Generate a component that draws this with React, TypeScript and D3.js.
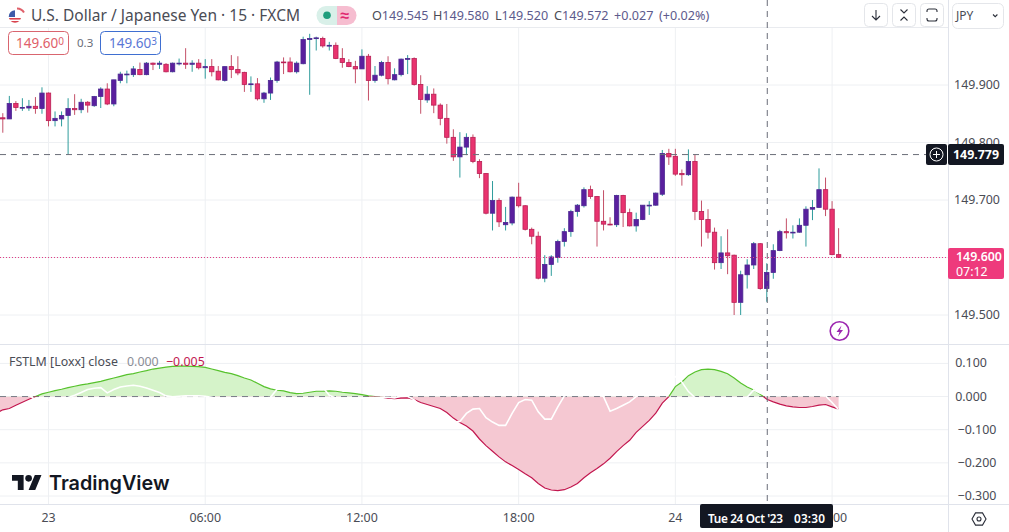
import React from 'react';
import * as d3 from 'd3';

// 15 minute bars, index 0 is the leftmost one on screen
const opens = [
  149.843, 149.841, 149.868, 149.860, 149.860, 149.863, 149.859, 149.886, 149.838, 149.841,
  149.847, 149.859, 149.857, 149.870, 149.864, 149.880, 149.893, 149.867, 149.908, 149.918,
  149.918, 149.927, 149.918, 149.938, 149.936, 149.936, 149.923, 149.937, 149.938, 149.936,
  149.938, 149.930, 149.932, 149.924, 149.908, 149.932, 149.927, 149.922, 149.901, 149.902,
  149.876, 149.886, 149.908, 149.940, 149.940, 149.923, 149.937, 149.979, 149.981, 149.981,
  149.968, 149.969, 149.946, 149.939, 149.932, 149.928, 149.950, 149.908, 149.917, 149.939,
  149.909, 149.918, 149.945, 149.946, 149.901, 149.874, 149.884, 149.865, 149.842, 149.809,
  149.775, 149.792, 149.809, 149.767, 149.746, 149.677, 149.699, 149.657, 149.660, 149.705,
  149.690, 149.649, 149.637, 149.564, 149.588, 149.600, 149.628, 149.645, 149.680, 149.690,
  149.718, 149.706, 149.663, 149.658, 149.657, 149.708, 149.678, 149.655, 149.666, 149.690,
  149.691, 149.710, 149.781, 149.776, 149.746, 149.744, 149.767, 149.680, 149.666, 149.644,
  149.591, 149.608, 149.604, 149.522, 149.570, 149.587, 149.624, 149.546, 149.574, 149.612,
  149.645, 149.643, 149.644, 149.656, 149.684, 149.687, 149.718, 149.684, 149.605,
];
const highs = [
  149.851, 149.881, 149.872, 149.877, 149.874, 149.879, 149.896, 149.887, 149.854, 149.854,
  149.877, 149.884, 149.876, 149.872, 149.881, 149.896, 149.903, 149.909, 149.923, 149.925,
  149.933, 149.939, 149.940, 149.939, 149.942, 149.938, 149.939, 149.946, 149.964, 149.943,
  149.945, 149.945, 149.945, 149.933, 149.932, 149.952, 149.950, 149.923, 149.915, 149.912,
  149.888, 149.913, 149.942, 149.948, 149.948, 149.941, 149.984, 149.989, 149.984, 149.984,
  149.975, 149.974, 149.964, 149.945, 149.942, 149.962, 149.954, 149.933, 149.942, 149.950,
  149.929, 149.946, 149.952, 149.948, 149.917, 149.898, 149.894, 149.868, 149.867, 149.823,
  149.818, 149.816, 149.814, 149.771, 149.747, 149.733, 149.703, 149.688, 149.706, 149.730,
  149.691, 149.652, 149.645, 149.604, 149.604, 149.631, 149.651, 149.683, 149.693, 149.722,
  149.725, 149.707, 149.717, 149.670, 149.709, 149.709, 149.685, 149.678, 149.691, 149.698,
  149.713, 149.787, 149.789, 149.789, 149.753, 149.788, 149.779, 149.699, 149.684, 149.652,
  149.637, 149.649, 149.605, 149.577, 149.597, 149.627, 149.625, 149.590, 149.623, 149.648,
  149.668, 149.656, 149.668, 149.689, 149.700, 149.755, 149.739, 149.698, 149.651,
];
const lows = [
  149.817, 149.841, 149.855, 149.855, 149.855, 149.850, 149.850, 149.828, 149.828, 149.828,
  149.779, 149.848, 149.851, 149.852, 149.862, 149.860, 149.865, 149.863, 149.903, 149.903,
  149.914, 149.917, 149.917, 149.926, 149.928, 149.922, 149.922, 149.934, 149.928, 149.923,
  149.927, 149.911, 149.915, 149.908, 149.906, 149.912, 149.917, 149.888, 149.888, 149.873,
  149.869, 149.874, 149.904, 149.919, 149.922, 149.920, 149.936, 149.883, 149.960, 149.965,
  149.960, 149.945, 149.930, 149.931, 149.903, 149.928, 149.873, 149.904, 149.915, 149.901,
  149.908, 149.915, 149.919, 149.899, 149.850, 149.869, 149.851, 149.830, 149.798, 149.768,
  149.739, 149.778, 149.764, 149.738, 149.675, 149.647, 149.653, 149.647, 149.656, 149.687,
  149.647, 149.623, 149.562, 149.557, 149.568, 149.591, 149.619, 149.636, 149.671, 149.687,
  149.702, 149.619, 149.647, 149.656, 149.653, 149.653, 149.654, 149.645, 149.665, 149.674,
  149.690, 149.707, 149.761, 149.742, 149.725, 149.742, 149.665, 149.619, 149.633, 149.579,
  149.580, 149.571, 149.500, 149.500, 149.546, 149.580, 149.544, 149.523, 149.563, 149.611,
  149.633, 149.633, 149.643, 149.619, 149.665, 149.686, 149.672, 149.604, 149.599,
];
const closes = [
  149.841, 149.868, 149.861, 149.861, 149.863, 149.859, 149.886, 149.838, 149.842, 149.847,
  149.859, 149.857, 149.870, 149.865, 149.880, 149.893, 149.867, 149.909, 149.919, 149.919,
  149.928, 149.918, 149.938, 149.936, 149.938, 149.923, 149.938, 149.938, 149.936, 149.938,
  149.930, 149.932, 149.923, 149.909, 149.932, 149.927, 149.921, 149.901, 149.902, 149.876,
  149.886, 149.908, 149.940, 149.939, 149.923, 149.938, 149.979, 149.981, 149.982, 149.968,
  149.969, 149.946, 149.939, 149.932, 149.928, 149.950, 149.908, 149.917, 149.939, 149.911,
  149.918, 149.945, 149.946, 149.901, 149.875, 149.884, 149.865, 149.842, 149.809, 149.775,
  149.792, 149.809, 149.767, 149.746, 149.677, 149.699, 149.662, 149.661, 149.705, 149.690,
  149.649, 149.637, 149.564, 149.588, 149.601, 149.628, 149.645, 149.680, 149.691, 149.718,
  149.706, 149.663, 149.658, 149.657, 149.708, 149.678, 149.655, 149.666, 149.691, 149.691,
  149.712, 149.781, 149.775, 149.745, 149.744, 149.767, 149.680, 149.666, 149.644, 149.591,
  149.608, 149.603, 149.522, 149.570, 149.587, 149.624, 149.546, 149.574, 149.612, 149.645,
  149.643, 149.644, 149.656, 149.684, 149.687, 149.718, 149.684, 149.605, 149.600,
];

// FSTLM [Loxx], one reading per bar, starting one bar left of the screen
const fstlm = [
  -0.050,
  -0.040, -0.036, -0.026, -0.017, -0.008, 0.000, 0.008, 0.013, 0.018, 0.022,
  0.027, 0.031, 0.035, 0.038, 0.042, 0.046, 0.051, 0.056, 0.061, 0.066,
  0.069, 0.074, 0.078, 0.083, 0.086, 0.089, 0.091, 0.092, 0.092, 0.091,
  0.090, 0.088, 0.083, 0.078, 0.073, 0.069, 0.063, 0.056, 0.050, 0.040,
  0.030, 0.023, 0.019, 0.017, 0.012, 0.009, 0.010, 0.013, 0.016, 0.016,
  0.017, 0.016, 0.013, 0.011, 0.009, 0.006, 0.002, 0.000, -0.002, -0.005,
  -0.006, -0.005, -0.004, -0.009, -0.018, -0.024, -0.030, -0.036, -0.048, -0.065,
  -0.078, -0.089, -0.104, -0.128, -0.148, -0.165, -0.182, -0.197, -0.208, -0.220,
  -0.233, -0.245, -0.262, -0.276, -0.282, -0.284, -0.281, -0.273, -0.262, -0.245,
  -0.230, -0.217, -0.203, -0.186, -0.166, -0.148, -0.132, -0.108, -0.090, -0.072,
  -0.050, -0.020, 0.000, 0.030, 0.044, 0.063, 0.074, 0.081, 0.083, 0.081,
  0.076, 0.069, 0.056, 0.041, 0.029, 0.020, 0.007, -0.008, -0.016, -0.023,
  -0.028, -0.031, -0.033, -0.033, -0.030, -0.026, -0.024, -0.031, -0.038,
];
// second plot of the indicator, white so it only shows on top of the fill
const fstlmSignal = [
  0.010,
  0.010, 0.010, 0.010, 0.008, 0.005, -0.010, -0.012, -0.010, -0.008, -0.006,
  -0.003, 0.004, 0.012, 0.021, 0.025, 0.027, 0.011, 0.021, 0.029, 0.032,
  0.034, 0.031, 0.026, 0.019, 0.012, 0.002, -0.001, 0.001, 0.002, 0.002,
  0.002, 0.001, -0.002, -0.008, -0.010, -0.010, -0.010, -0.008, -0.008, -0.006,
  -0.005, -0.002, 0.022, 0.030, 0.030, 0.028, 0.028, 0.030, 0.030, 0.028,
  0.004, -0.004, -0.005, -0.005, -0.005, -0.005, -0.004, -0.003, -0.002, -0.002,
  -0.004, 0.002, 0.001, -0.010, -0.030, -0.040, -0.050, -0.060, -0.075, -0.078,
  -0.075, -0.051, -0.038, -0.036, -0.064, -0.077, -0.087, -0.087, -0.051, -0.018,
  -0.009, -0.011, -0.046, -0.068, -0.068, -0.031, 0.002, 0.010, 0.012, 0.012,
  0.010, 0.006, 0.000, -0.044, -0.036, -0.026, -0.016, 0.000, 0.015, 0.030,
  0.050, 0.050, 0.060, 0.060, 0.044, 0.015, -0.003, -0.010, -0.010, -0.010,
  -0.010, -0.010, -0.008, -0.006, -0.002, 0.020, 0.010, 0.005, 0.005, 0.005,
  0.005, 0.005, 0.005, 0.005, 0.005, 0.004, 0.002, -0.018, -0.040,
];

const priceTicks = [149.9, 149.8, 149.7, 149.6, 149.5];
const priceLabels = ['149.900', '149.800', '149.700', '', '149.500'];
const oscTicks = [0.1, 0, -0.1, -0.2, -0.3];
const oscLabels = ['0.100', '0.000', '\u22120.100', '\u22120.200', '\u22120.300'];
const timeBars = [7, 31, 55, 79, 103, 127];
const timeLabels = ['23', '06:00', '12:00', '18:00', '24', '00'];
const hoverBar = 117;
const hoverPrice = 149.779;
const lastPrice = 149.6;

const plotRight = 948.5;
const font = '"Noto Sans", sans-serif';
const gridColor = '#eef0f3';
const upBody = '#5a1f9e';
const upBorder = '#4b2a92';
const upWick = '#2f9c9c';
const downBody = '#e9336f';
const downBorder = '#b81f55';
const downWick = '#c45068';

const x = d3.scaleLinear().domain([0, 128]).range([2.8, 838.6]);
const yPrice = d3.scaleLinear().domain([149.9, 149.5]).range([85, 315]);
const yOsc = d3.scaleLinear().domain([0.1, -0.3]).range([363.4, 496]);

const oscArea = d3
  .area<number>()
  .x((_, i) => x(i - 1))
  .y0(yOsc(0))
  .y1((d) => yOsc(d));
const oscLine = d3
  .line<number>()
  .x((_, i) => x(i - 1))
  .y((d) => yOsc(d));

const Candles = () => (
  <g>
    {opens.map((open, i) => {
      const up = closes[i] >= open;
      const top = yPrice(Math.max(open, closes[i]));
      const bottom = yPrice(Math.min(open, closes[i]));
      const cx = x(i);
      return (
        <g key={i}>
          <line
            x1={cx}
            x2={cx}
            y1={yPrice(highs[i])}
            y2={yPrice(lows[i])}
            stroke={up ? upWick : downWick}
            strokeWidth={1}
          />
          <rect
            x={cx - 2.2}
            y={top}
            width={4.4}
            height={Math.max(bottom - top, 0.8)}
            fill={up ? upBody : downBody}
            stroke={up ? upBorder : downBorder}
            strokeWidth={0.8}
          />
        </g>
      );
    })}
  </g>
);

const Oscillator = () => (
  <g>
    <defs>
      <clipPath id="above-zero">
        <rect x={0} y={345} width={plotRight} height={yOsc(0) - 345} />
      </clipPath>
      <clipPath id="below-zero">
        <rect x={0} y={yOsc(0)} width={plotRight} height={504 - yOsc(0)} />
      </clipPath>
    </defs>
    <path d={oscArea(fstlm) ?? ''} fill="#d5f3c9" clipPath="url(#above-zero)" />
    <path d={oscArea(fstlm) ?? ''} fill="#f5c8d2" clipPath="url(#below-zero)" />
    <line
      x1={0}
      x2={x(128)}
      y1={yOsc(0)}
      y2={yOsc(0)}
      stroke="#787b86"
      strokeWidth={1}
      strokeDasharray="6 5"
    />
    <path d={oscLine(fstlm) ?? ''} fill="none" stroke="#57c22d" strokeWidth={1.2} clipPath="url(#above-zero)" />
    <path d={oscLine(fstlm) ?? ''} fill="none" stroke="#c2174f" strokeWidth={1.2} clipPath="url(#below-zero)" />
    <path d={oscLine(fstlmSignal) ?? ''} fill="none" stroke="#ffffff" strokeWidth={1.6} />
  </g>
);

const Header = () => (
  <g fontFamily={font}>
    {/* flag */}
    <defs>
      <clipPath id="flag">
        <circle cx={15} cy={16.5} r={6.2} />
      </clipPath>
    </defs>
    <g clipPath="url(#flag)">
      <rect x={8} y={10} width={14} height={14} fill="#ffffff" />
      <rect x={8} y={18} width={14} height={1.6} fill="#d9434e" />
      <rect x={8} y={21} width={14} height={3} fill="#d9434e" />
      <rect x={8} y={10} width={7} height={7} fill="#3d5ba9" />
    </g>
    <path d="M17 8.5a8 8 0 0 1 7 4" fill="none" stroke="#e0606a" strokeWidth={2} />
    <text x={31} y={21} fontSize={15.5} fill="#4a4c55" textLength={269}>
      U.S. Dollar / Japanese Yen · 15 · FXCM
    </text>

    {/* market status pill */}
    <path d="M337 6h-11a9.5 9.5 0 0 0 0 19h11z" fill="#d9f0e9" />
    <path d="M337 6h10a9.5 9.5 0 0 1 0 19h-10z" fill="#f6bdd0" />
    <circle cx={327} cy={15.3} r={3.8} fill="#1f9d7c" />
    <text x={345} y={20.5} fontSize={16} fontWeight={700} fill="#e0296f" textAnchor="middle">≈</text>

    {/* OHLC */}
    <g fontSize={12.6} fill="#5d5a8c">
      <text x={372} y={20}>
        <tspan fill="#4a4c55">O</tspan>149.545
      </text>
      <text x={433} y={20}>
        <tspan fill="#4a4c55">H</tspan>149.580
      </text>
      <text x={495} y={20}>
        <tspan fill="#4a4c55">L</tspan>149.520
      </text>
      <text x={554} y={20}>
        <tspan fill="#4a4c55">C</tspan>149.572
      </text>
      <text x={614} y={20}>+0.027</text>
      <text x={659} y={20}>(+0.02%)</text>
    </g>

    {/* bid / ask */}
    <rect x={8.5} y={31.5} width={60} height={23} rx={4} fill="#ffffff" stroke="#d9656f" />
    <text x={16} y={48} fontSize={13.5} fill="#e0606a">
      149.60<tspan fontSize={10} dy={-3}>0</tspan>
    </text>
    <text x={77} y={47} fontSize={11.5} fill="#6a6d78">0.3</text>
    <rect x={100.5} y={31.5} width={60} height={23} rx={4} fill="#ffffff" stroke="#3f6fd1" />
    <text x={109} y={48} fontSize={13.5} fill="#5b78d6">
      149.60<tspan fontSize={10} dy={-3}>3</tspan>
    </text>

    {/* buttons */}
    <g fill="#ffffff" stroke="#e4e6ea">
      <rect x={864.5} y={3.5} width={23} height={23} rx={4} />
      <rect x={892.5} y={3.5} width={23} height={23} rx={4} />
      <rect x={920.5} y={3.5} width={23} height={23} rx={4} />
      <rect x={952.5} y={3.5} width={51} height={25} rx={5} />
    </g>
    <g fill="none" stroke="#2a2e39" strokeWidth={1.1}>
      <path d="M876 10v10M872 16l4 4 4-4" />
      <path d="M900.5 9.5l3.5 3.5 3.5-3.5M900.5 20.5l3.5-3.5 3.5 3.5" />
      <path d="M927 12v-1a2 2 0 0 1 2-2h6a2 2 0 0 1 2 2v1M927 18v1a2 2 0 0 0 2 2h6a2 2 0 0 0 2-2v-1" />
      <path d="M993 14.5l2.2 2.2 2.2-2.2" />
    </g>
    <text x={956} y={20} fontSize={12} fill="#4a4c55">JPY</text>
  </g>
);

const App = () => (
  <svg
    width={1009}
    height={532}
    viewBox="0 0 1009 532"
    style={{ position: 'fixed', left: 0, top: 0, display: 'block', background: '#ffffff' }}
  >
    {/* grid */}
    <g stroke={gridColor} strokeWidth={1}>
      {timeBars.map((b) => (
        <line key={b} x1={x(b)} x2={x(b)} y1={27} y2={504} />
      ))}
      {priceTicks.map((t) => (
        <line key={t} x1={0} x2={plotRight} y1={yPrice(t)} y2={yPrice(t)} />
      ))}
      {oscTicks.map((t) => (
        <line key={t} x1={0} x2={plotRight} y1={yOsc(t)} y2={yOsc(t)} />
      ))}
    </g>
    <line x1={0} x2={plotRight} y1={27.5} y2={27.5} stroke="#e9ebef" />

    <Candles />

    {/* last price */}
    <line
      x1={0}
      x2={plotRight}
      y1={yPrice(lastPrice)}
      y2={yPrice(lastPrice)}
      stroke="#e23d86"
      strokeWidth={1}
      strokeDasharray="1 2"
    />

    <Oscillator />

    {/* pane + axis borders */}
    <line x1={0} x2={1009} y1={344.5} y2={344.5} stroke="#e0e3eb" />
    <line x1={0} x2={1009} y1={504.5} y2={504.5} stroke="#e0e3eb" />
    <line x1={plotRight} x2={plotRight} y1={0} y2={532} stroke="#e0e3eb" />

    {/* crosshair */}
    <line
      x1={x(hoverBar) + 0.5}
      x2={x(hoverBar) + 0.5}
      y1={0}
      y2={504}
      stroke="#6a6d78"
      strokeWidth={1}
      strokeDasharray="6 5"
    />
    <line
      x1={0}
      x2={plotRight - 22}
      y1={yPrice(hoverPrice)}
      y2={yPrice(hoverPrice)}
      stroke="#6a6d78"
      strokeWidth={1}
      strokeDasharray="6 5"
    />

    <Header />

    <g fontFamily={font}>
      {/* price axis */}
      <g fontSize={12.4} fill="#4a4c55" textAnchor="middle">
        {priceTicks.map((t, i) => (
          <text key={t} x={977} y={yPrice(t) + 4}>
            {priceLabels[i]}
          </text>
        ))}
        {oscTicks.map((t, i) => (
          <text key={t} x={i < 2 ? 971 : 977} y={yOsc(t) + 4}>
            {oscLabels[i]}
          </text>
        ))}
      </g>

      {/* hovered price tag */}
      <rect x={926} y={144} width={21} height={21} rx={2} fill="#131722" />
      <circle cx={936.5} cy={154.5} r={6.5} fill="none" stroke="#ffffff" strokeWidth={1} />
      <path d="M936.5 151v7M933 154.5h7" stroke="#ffffff" strokeWidth={1} />
      <rect x={948} y={144} width={56} height={21} rx={2} fill="#131722" />
      <text x={976} y={159} fontSize={12.4} fontWeight={700} fill="#ffffff" textAnchor="middle">
        149.779
      </text>

      {/* last price tag */}
      <rect x={948} y={248} width={56} height={31} rx={2} fill="#ee3a7c" />
      <text x={956} y={261} fontSize={12.4} fontWeight={600} fill="#ffffff">149.600</text>
      <text x={956} y={275.5} fontSize={12.4} fill="#ffffff">07:12</text>

      {/* news marker */}
      <circle cx={839.5} cy={331} r={9.3} fill="#ffffff" stroke="#9c27b0" strokeWidth={1.6} />
      <path d="M841.5 325.5l-5 6.5h3l-1.5 4.5 5-6.5h-3z" fill="#9c27b0" />

      {/* indicator legend */}
      <text x={9} y={365.5} fontSize={12.4}>
        <tspan fill="#4a4c55">FSTLM [Loxx] close</tspan>
        <tspan x={127} fill="#8a8d96">0.000</tspan>
        <tspan x={166} fill="#c2174f">−0.005</tspan>
      </text>

      {/* time axis */}
      <g fontSize={12.4} fill="#4a4c55" textAnchor="middle">
        {timeBars.map((b, i) => (
          <text key={b} x={i === 5 ? x(b) + 8 : x(b)} y={522}>
            {timeLabels[i]}
          </text>
        ))}
      </g>
      <rect x={700} y={504} width={133} height={24} rx={2} fill="#131722" />
      <g fontSize={11.8} fontWeight={600} fill="#ffffff">
        <text x={708} y={523} textLength={75}>Tue 24 Oct '23</text>
        <text x={794} y={523} textLength={31}>03:30</text>
      </g>
      <path
        d="M975.5 512.9h7l3.5 6.1-3.5 6.1h-7l-3.5-6.1z"
        fill="none"
        stroke="#2a2e39"
        strokeWidth={1.1}
      />
      <circle cx={979} cy={519} r={2} fill="none" stroke="#2a2e39" strokeWidth={1.1} />

      {/* logo */}
      <g transform="translate(12,471.7) scale(0.83)" fill="#131722">
        <path d="M14 22H7V11H0V4h14v18zM28 22h-8l7.5-18h8L28 22z" />
        <circle cx={20} cy={8} r={4} />
      </g>
      <text x={49} y={490} fontFamily="Inter, sans-serif" fontSize={19.8} fontWeight={600} fill="#131722">
        TradingView
      </text>
    </g>
  </svg>
);

export default App;
